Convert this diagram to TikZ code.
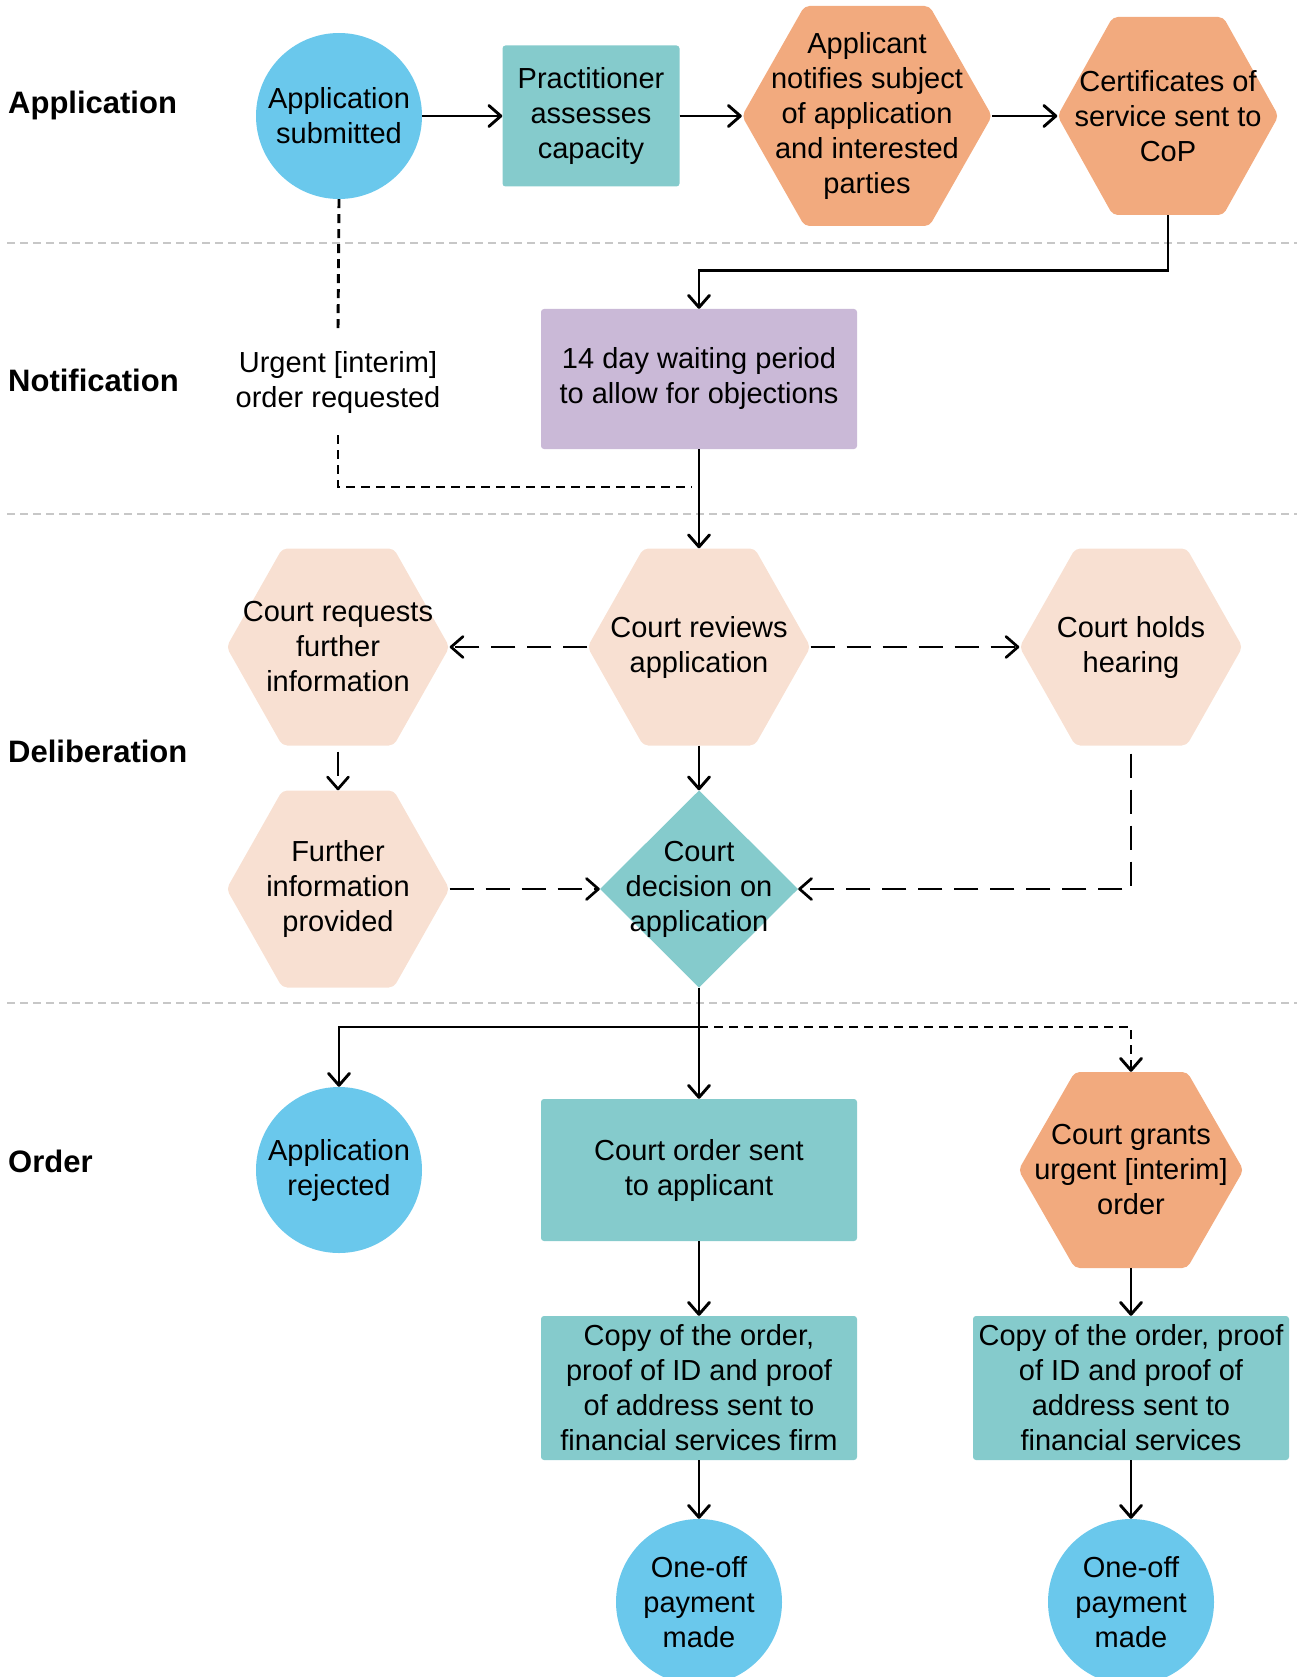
\documentclass[tikz,border=0pt]{standalone}
\usepackage{fontspec}
\setmainfont{Liberation Sans}
\usetikzlibrary{arrows.meta,calc}
\definecolor{fcblue}{RGB}{106,200,236}
\definecolor{fcteal}{RGB}{133,203,204}
\definecolor{fcorange}{RGB}{242,170,126}
\definecolor{fcpeach}{RGB}{248,224,210}
\definecolor{fcpurple}{RGB}{202,185,215}

\begin{document}
\begin{tikzpicture}[x=1pt,y=-1pt,
  every node/.style={font=\fontsize{29}{35}\selectfont, align=center, inner sep=0pt},
  lane/.style={font=\fontsize{31}{37}\selectfont\bfseries, anchor=west},
  roundel/.style={circle, fill=fcblue, minimum size=166pt},
  boxed/.style={rectangle, rounded corners=3pt, fill=#1},
  hexa/.style={path picture={\fill[#1, rounded corners=5pt]
      (path picture bounding box.west)
      -- ($(path picture bounding box.north west)!.25!(path picture bounding box.north east)$)
      -- ($(path picture bounding box.north west)!.75!(path picture bounding box.north east)$)
      -- (path picture bounding box.east)
      -- ($(path picture bounding box.south west)!.75!(path picture bounding box.south east)$)
      -- ($(path picture bounding box.south west)!.25!(path picture bounding box.south east)$)
      -- cycle;}},
  diam/.style={path picture={\fill[#1] (path picture bounding box.west)
      -- (path picture bounding box.north) -- (path picture bounding box.east)
      -- (path picture bounding box.south) -- cycle;}},
  flow/.style={line width=2.9pt, -{Straight Barb[length=12pt,width=21pt,round]}},
  longdash/.style={line width=2.7pt, dash pattern=on 24pt off 12pt},
  shortdash/.style={line width=2.9pt, dash pattern=on 9pt off 6pt},
  lanesep/.style={black!22, line width=2pt, dash pattern=on 8pt off 5pt}]
  \useasboundingbox (0,0) rectangle (1297,1677);
  % lane separators
  \draw[lanesep] (7,243) -- (1297,243);
  \draw[lanesep] (7,514) -- (1297,514);
  \draw[lanesep] (7,1003) -- (1297,1003);
  % lane labels
  \node[lane] (lapp) at (8,105) {Application};
  \node[lane] (lnot) at (8,380) {Notification};
  \node[lane] (ldel) at (8,751) {Deliberation};
  \node[lane] (lord) at (8,1161) {Order};
  % application
  \node[roundel] (sub) at (339,116) {Application\\submitted};
  \node[boxed=fcteal, minimum width=177pt, minimum height=141pt] (prac) at (591,116) {Practitioner\\assesses\\capacity};
  \node[hexa=fcorange, minimum width=250pt, minimum height=220pt] (notif) at (867,116) {Applicant\\notifies subject\\of application\\and interested\\parties};
  \node[hexa=fcorange, minimum width=221pt, minimum height=198pt] (cert) at (1168,116) {Certificates of\\service sent to\\CoP};
  % notification
  \node[boxed=fcpurple, minimum width=316pt, minimum height=140pt] (wait) at (699,379) {14 day waiting period\\to allow for objections};
  \node[inner ysep=21pt] (urg) at (338,383) {Urgent [interim]\\order requested};
  \coordinate (merge) at (692,487);
  % deliberation
  \node[hexa=fcpeach, minimum width=223pt, minimum height=197pt] (req) at (338,647) {Court requests\\further\\information};
  \node[hexa=fcpeach, minimum width=223pt, minimum height=197pt] (rev) at (699,647) {Court reviews\\application};
  \node[hexa=fcpeach, minimum width=223pt, minimum height=197pt] (hold) at (1131,647) {Court holds\\hearing};
  \node[hexa=fcpeach, minimum width=223pt, minimum height=197pt] (more) at (338,889) {Further\\information\\provided};
  \node[diam=fcteal, minimum width=198pt, minimum height=197pt] (dec) at (699,889) {Court\\decision on\\application};
  % order
  \coordinate (split) at (699,1027);
  \node[roundel] (rej) at (339,1170) {Application\\rejected};
  \node[boxed=fcteal, minimum width=316pt, minimum height=142pt] (sent) at (699,1170) {Court order sent\\to applicant};
  \node[hexa=fcorange, minimum width=225pt, minimum height=196pt] (grant) at (1131,1170) {Court grants\\urgent [interim]\\order};
  \node[boxed=fcteal, minimum width=316pt, minimum height=144pt] (copya) at (699,1388) {Copy of the order,\\proof of ID and proof\\of address sent to\\financial services firm};
  \node[boxed=fcteal, minimum width=316pt, minimum height=144pt] (copyb) at (1131,1388) {Copy of the order, proof\\of ID and proof of\\address sent to\\financial services};
  \node[roundel] (paya) at (699,1602) {One-off\\payment\\made};
  \node[roundel] (payb) at (1131,1602) {One-off\\payment\\made};
  % connectors
  \draw[flow] (sub.east) -- (prac.west);
  \draw[flow] (prac.east) -- (notif.west);
  \draw[flow] (notif.east) -- (cert.west);
  \draw[flow] (cert.south) -- ++(0,55) -| (wait.north);
  \draw[shortdash] (sub.south) -- (urg.north);
  \draw[shortdash] (urg.south) |- (merge);
  \draw[flow] (wait.south) -- (rev.north);
  \draw[flow, longdash] (rev.west) -- (req.east);
  \draw[flow, longdash] (rev.east) -- (hold.west);
  \draw[flow, longdash, shorten <=6pt] (req.south) -- (more.north);
  \draw[flow] (rev.south) -- (dec.north);
  \draw[flow, longdash] (more.east) -- (dec.west);
  \draw[flow, longdash, shorten <=8pt] (hold.south) |- (dec.east);
  \draw[flow] (dec.south) -- (sent.north);
  \draw[flow] (split) -| (rej.north);
  \draw[flow, shortdash] (split) -| (grant.north);
  \draw[flow] (sent.south) -- (copya.north);
  \draw[flow] (grant.south) -- (copyb.north);
  \draw[flow] (copya.south) -- (paya.north);
  \draw[flow] (copyb.south) -- (payb.north);
\end{tikzpicture}
\end{document}
